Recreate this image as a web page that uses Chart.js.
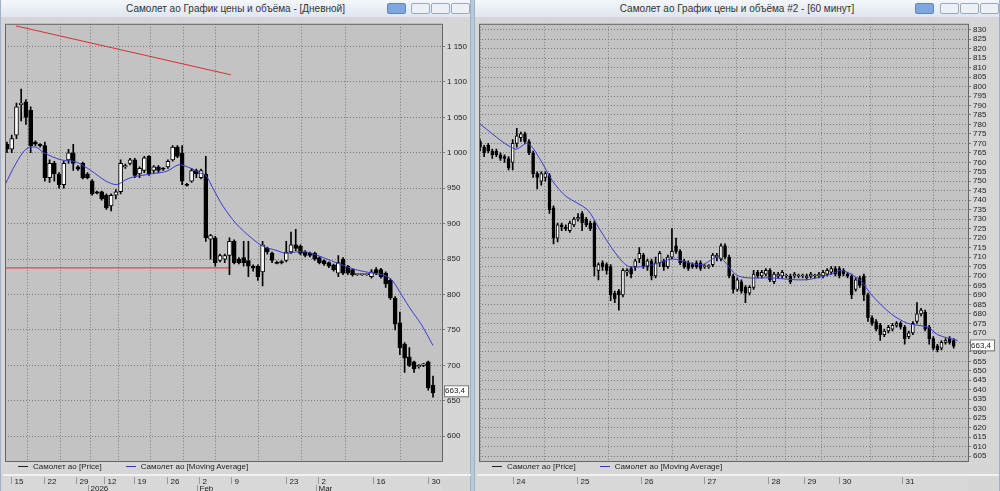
<!DOCTYPE html>
<html><head><meta charset="utf-8">
<script src="https://cdn.jsdelivr.net/npm/chart.js@4"></script>
<style>
body{margin:0;width:1000px;height:491px;background:#b9c9dc;font-family:"Liberation Sans",Arial,sans-serif;overflow:hidden;position:relative}
.win{position:absolute;top:0;height:491px;background:#d6d6d6;border-left:1px solid #9fb1c7;border-right:1px solid #9fb1c7;box-sizing:border-box}
.title{position:absolute;left:0;right:0;top:0;height:17px;background:linear-gradient(#f4f7fb,#dfe6ef);font-size:10px;color:#333;text-align:center;line-height:17px}
.btn{position:absolute;top:3px;width:19px;height:11px;border:1px solid #9aa9bb;background:#edf1f5;box-sizing:border-box;border-radius:2px}
.btn.on{background:#7fa7de;border-color:#5f87c0}
.leg{position:absolute;font-size:8px;color:#222;white-space:nowrap}
.leg span{display:inline-block;width:10px;height:0;border-top:1px solid #222;vertical-align:middle;margin:0 5px 0 0}
canvas{position:absolute}
</style></head><body>
<div class="win" style="left:0;width:471px">
 <div class="title">Самолет ао График цены и объёма - [Дневной]</div>
 <div class="btn on" style="left:386px"></div><div class="btn" style="left:410px"></div><div class="btn" style="left:430px"></div><div class="btn" style="left:450px"></div>
 <div id="cl" style="position:absolute;left:2px;top:17px;width:468px;height:474px"><canvas id="c1"></canvas></div>
 <div class="leg" style="left:17px;top:462px"><span></span>Самолет ао [Price]<span style="border-color:#3333cc;margin-left:24px"></span>Самолет ао [Moving Average]</div>
</div>
<div class="win" style="left:474px;width:526px">
 <div class="title">Самолет ао График цены и объёма #2 - [60 минут]</div>
 <div class="btn on" style="left:440px"></div><div class="btn" style="left:465px"></div><div class="btn" style="left:485px"></div><div class="btn" style="left:505px"></div>
 <div id="cr" style="position:absolute;left:2px;top:17px;width:522px;height:474px"><canvas id="c2"></canvas></div>
 <div class="leg" style="left:17px;top:462px"><span></span>Самолет ао [Price]<span style="border-color:#3333cc;margin-left:24px"></span>Самолет ао [Moving Average]</div>
</div>
<script>
// ---- Daily panel data ----
const dOpen=[1012,1005,1025,1068,1072,1060,1015,1012,1010,965,985,970,955,990,1000,980,985,970,960,945,945,940,925,940,945,980,985,990,970,975,995,975,980,978,980,990,1008,1000,955,960,975,965,970,878,880,848,850,855,875,850,852,848,840,840,832,865,858,845,846,848,860,870,868,860,858,858,852,848,845,842,830,850,840,835,828,828,828,825,835,835,830,820,795,760,730,712,705,698,700,705,672];
const dHigh=[1015,1025,1070,1090,1075,1065,1017,1013,1015,990,988,972,988,1005,1012,982,987,972,962,946,946,942,942,948,990,984,992,992,980,995,996,982,982,979,990,1010,1010,1010,957,978,977,977,995,885,882,857,857,880,877,852,875,875,842,842,875,867,860,847,848,875,888,892,870,862,860,860,853,849,846,843,855,852,841,836,829,829,829,835,838,837,832,822,797,775,732,725,706,701,703,706,685];
const dLow=[1000,1000,1020,1045,1040,1000,1010,1008,960,958,960,950,950,985,975,975,963,963,940,942,933,920,918,935,942,978,983,965,965,972,968,972,972,975,978,988,993,955,953,958,965,963,875,850,840,846,845,828,843,843,840,825,833,820,812,857,845,843,843,846,858,862,856,853,853,848,843,841,838,833,825,828,828,826,827,827,827,823,828,823,810,793,750,715,690,698,690,696,698,665,655];
const dClose=[1005,1020,1065,1070,1050,1010,1012,1010,965,985,970,955,985,1000,985,977,965,965,942,943,935,922,940,945,985,982,990,968,978,993,970,980,975,977,988,1008,995,960,954,975,970,975,880,883,845,855,855,875,845,845,845,840,837,825,870,860,848,844,845,860,870,865,858,855,855,850,845,843,840,835,845,830,830,828,828,828,828,832,830,825,815,795,758,725,710,700,695,700,702,668,661];
const dMAx=[-0.4,1.9,4.0,6.1,7.8,11.4,14.6,17.7,20.9,23.2,25.1,26.8,30.4,33.8,36.3,38.9,40.6,42.0,43.5,45.6,48.4,51.6,54.1,57.0,58.9,61.1,63.2,65.7,69.5,73.7,77.3,80.1,81.6,83.3,85.4,87.5,90.0];
const dMAy=[955,985,1005,1008,1000,990,987,975,960,955,962,966,970,974,983,978,972,968,950,925,900,880,868,862,858,860,860,855,845,835,830,826,818,800,778,758,728];
const dGridIdx=[0.85,7.8,14.6,20.5,26.8,33.8,40.6,47.3,58.9,65.7,77.3,89.0];
const dDayLabels=['15','22','29','12','19','26','2','9','23','2','16','30'];
const dMonthIdx=[17.5,40.6,65.7], dMonthLabels=['2026','Feb','Mar'];
const redDiag={x:[1.9,47.3],y:[1179,1110]}, redHoriz={x:[-0.4,47.3],y:[837.5,837.5]};

// ---- Hourly panel data ----
const hOpen=[771,768,769,766,766,764,763,762,760,770,773,775,771,765,754,750,752,753,736,720,727,726,724,727,730,733,730,728,728,703,707,706,705,691,692,690,702,704,705,709,711,705,708,700,707,708,705,710,716,713,708,707,706,707,707,705,705,706,710,709,716,710,700,693,697,694,691,694,702,700,701,703,697,700,700,700,700,700,700,700,699,700,700,700,700,701,702,704,704,703,701,700,693,699,700,690,678,676,674,669,671,672,674,675,673,668,670,676,680,681,673,667,663,662,665,667,666];
const hHigh=[772,769,770,767,767,765,764,763,772,778,776,776,772,766,755,755,755,754,737,728,728,727,729,731,733,734,731,729,729,707,708,707,706,692,693,704,704,705,709,715,712,709,709,710,713,709,711,725,720,714,709,708,707,708,708,706,706,712,712,717,717,711,701,699,698,695,695,703,703,703,704,704,702,702,703,701,701,702,701,701,701,702,701,702,703,704,705,705,705,704,702,701,699,700,701,691,679,677,675,672,674,675,676,676,674,671,676,686,683,682,674,668,664,666,667,668,667];
const hLow=[766,763,765,762,763,761,760,756,756,768,771,770,764,752,746,748,750,733,717,718,724,724,723,726,729,724,726,724,700,698,703,701,687,686,682,689,700,699,703,707,704,703,698,699,705,703,704,709,712,706,704,703,704,704,703,704,704,705,708,708,709,699,691,692,691,686,690,693,699,699,700,697,696,699,699,699,696,699,699,699,698,699,699,699,699,700,701,700,699,700,699,688,692,694,687,676,674,671,666,668,670,671,673,672,664,667,669,675,679,671,664,661,660,661,664,664,662];
const hClose=[768,765,766,764,764,762,762,757,770,774,775,771,765,754,752,754,754,735,720,727,726,725,728,730,731,728,727,725,705,706,705,703,690,688,690,703,703,701,708,712,705,708,700,707,712,705,710,713,713,707,705,704,705,705,704,705,705,711,711,716,710,700,693,698,692,691,694,701,700,702,703,698,701,701,702,700,697,701,700,700,700,701,700,701,702,703,704,701,700,701,700,690,698,695,690,678,675,672,669,671,673,674,675,673,667,670,675,680,682,672,667,662,661,665,666,665,663];
const hMAx=[-0.5,8.5,11.7,14.6,17.8,21.1,26.3,29.2,33.2,36.5,42.2,47.1,51.1,54.4,58.5,63.3,71.5,79.6,86.1,88.5,93,95.9,100.7,104.8,109.7,112.1,117];
const hMAy=[781,767,770,762,750,742,735,725,712,705,706,709,707,706,710,700,699,698,701,703,698,690,680,675,673,669,666];
const hGridIdx=[8.0,23.7,39.3,54.9,70.5,79.3,88.0,103.4];
const hDayLabels=['24','25','26','27','28','29','30','31'];
const lastPrice=663.4, lastLabel='663,4';

function candles(O,H,L,C){
  const wick=O.map((o,i)=>({x:i,y:[L[i],H[i]]}));
  const body=O.map((o,i)=>({x:i,y:[Math.min(o,C[i]),Math.max(o,C[i])]}));
  const fill=O.map((o,i)=>C[i]>=o?'#ffffff':'#000000');
  return {wick,body,fill};
}
function pts(xs,ys){return xs.map((x,i)=>({x,y:ys[i]}));}

const grid={color:'#7a7a7a',lineWidth:1};
const bgPlugin={id:'bg',beforeDraw(ch){const a=ch.chartArea,c=ch.ctx;c.save();c.fillStyle='#c3c3c3';c.fillRect(a.left,a.top,a.right-a.left,a.bottom-a.top);c.restore();}};
function stripPlugin(days,gridIdx,months,monthIdx){return {id:'strip',afterDraw(ch){
  const c=ch.ctx,a=ch.chartArea,xs=ch.scales.x,y=ch.scales.y;
  c.save();
  c.strokeStyle='#666';c.lineWidth=1;c.strokeRect(a.left+0.5,a.top+0.5,a.right-a.left,a.bottom-a.top);
  c.fillStyle='#f2f2f2';c.fillRect(0,a.bottom+13,ch.width,2);
  c.fillStyle='#d8d8d8';c.fillRect(0,a.bottom+15,a.right,ch.height-a.bottom-15);
  c.font='8px "Liberation Sans"';c.fillStyle='#222';c.textBaseline='top';
  gridIdx.forEach((g,i)=>{const px=Math.round(xs.getPixelForValue(g))+0.5;
    c.strokeStyle='#999';c.beginPath();c.moveTo(px,a.bottom+16);c.lineTo(px,a.bottom+23);c.stroke();
    c.fillText(days[i],px+3,a.bottom+17);});
  if(months){months.forEach((m,i)=>{const px=Math.round(xs.getPixelForValue(monthIdx[i]))+0.5;
    c.strokeStyle='#999';c.beginPath();c.moveTo(px-2,a.bottom+24);c.lineTo(px-2,a.bottom+30);c.stroke();
    c.fillText(m,px,a.bottom+24);});}
  const py=y.getPixelForValue(lastPrice);
  c.fillStyle='#fff';c.fillRect(a.right+2,py-6,24,11);c.strokeStyle='#777';c.strokeRect(a.right+2.5,py-5.5,24,11);
  c.fillStyle='#222';c.textBaseline='middle';c.fillText(lastLabel,a.right+3,py);
  c.restore();}};}

function makeChart(id,O,H,L,C,maX,maY,xmin,xmax,ymin,ymax,step,gridIdx,days,months,monthIdx,fmt,bw,axisW,extra){
  const k=candles(O,H,L,C);
  const ds=[
    {type:'line',data:pts(maX,maY),borderColor:'#3a3ad0',borderWidth:1,pointRadius:0,tension:0.3,order:0},
    {type:'bar',data:k.body,backgroundColor:k.fill,borderColor:'#000',borderWidth:1,borderSkipped:false,barThickness:bw,minBarLength:1,order:1},
    {type:'bar',data:k.wick,backgroundColor:'#000',barThickness:1,order:2}
  ].concat(extra||[]);
  return new Chart(document.getElementById(id),{
    data:{datasets:ds},
    plugins:[bgPlugin,stripPlugin(days,gridIdx,months,monthIdx)],
    options:{responsive:true,maintainAspectRatio:false,animation:false,
      layout:{padding:{left:2,top:1,bottom:30,right:0}},
      plugins:{legend:{display:false},tooltip:{enabled:false}},
      datasets:{bar:{grouped:false}},
      scales:{
        x:{type:'linear',min:xmin,max:xmax,offset:false,grid:{...grid,drawTicks:false},border:{display:false,dash:[1,2]},ticks:{display:false},
           afterBuildTicks(s){s.ticks=gridIdx.map(v=>({value:v}));},afterFit(s){s.height=0;}},
        y:{position:'right',min:ymin,max:ymax,grid:{...grid,drawTicks:true,tickLength:3},border:{display:false,dash:[1,2]},
           ticks:{autoSkip:false,color:'#222',font:{size:8,family:'Liberation Sans'},padding:2,callback:fmt},
           afterBuildTicks(s){const t=[];for(let v=Math.ceil(ymin/step)*step;v<=ymax;v+=step)t.push({value:v});s.ticks=t;},
           afterFit(s){s.width=axisW;}}
      }}
  });
}
const redLines=[
 {type:'line',data:pts(redDiag.x,redDiag.y),borderColor:'#d83030',borderWidth:1,pointRadius:0,order:3},
 {type:'line',data:pts(redHoriz.x,redHoriz.y),borderColor:'#d83030',borderWidth:1,pointRadius:0,order:3}];
makeChart('c1',dOpen,dHigh,dLow,dClose,dMAx,dMAy,-0.42,91.9,565,1182,50,dGridIdx,dDayLabels,dMonthLabels,dMonthIdx,
  v=>v>=600&&v<=1150?(v>=1000?String(v).replace(/^(\d)(\d{3})$/,'$1 $2'):String(v)):'',4,29,redLines);
makeChart('c2',hOpen,hHigh,hLow,hClose,hMAx,hMAy,-0.25,119.5,602.4,833.1,5,hGridIdx,hDayLabels,null,null,
  v=>v>=605&&v<=830?String(v):'',3,31);
</script></body></html>
